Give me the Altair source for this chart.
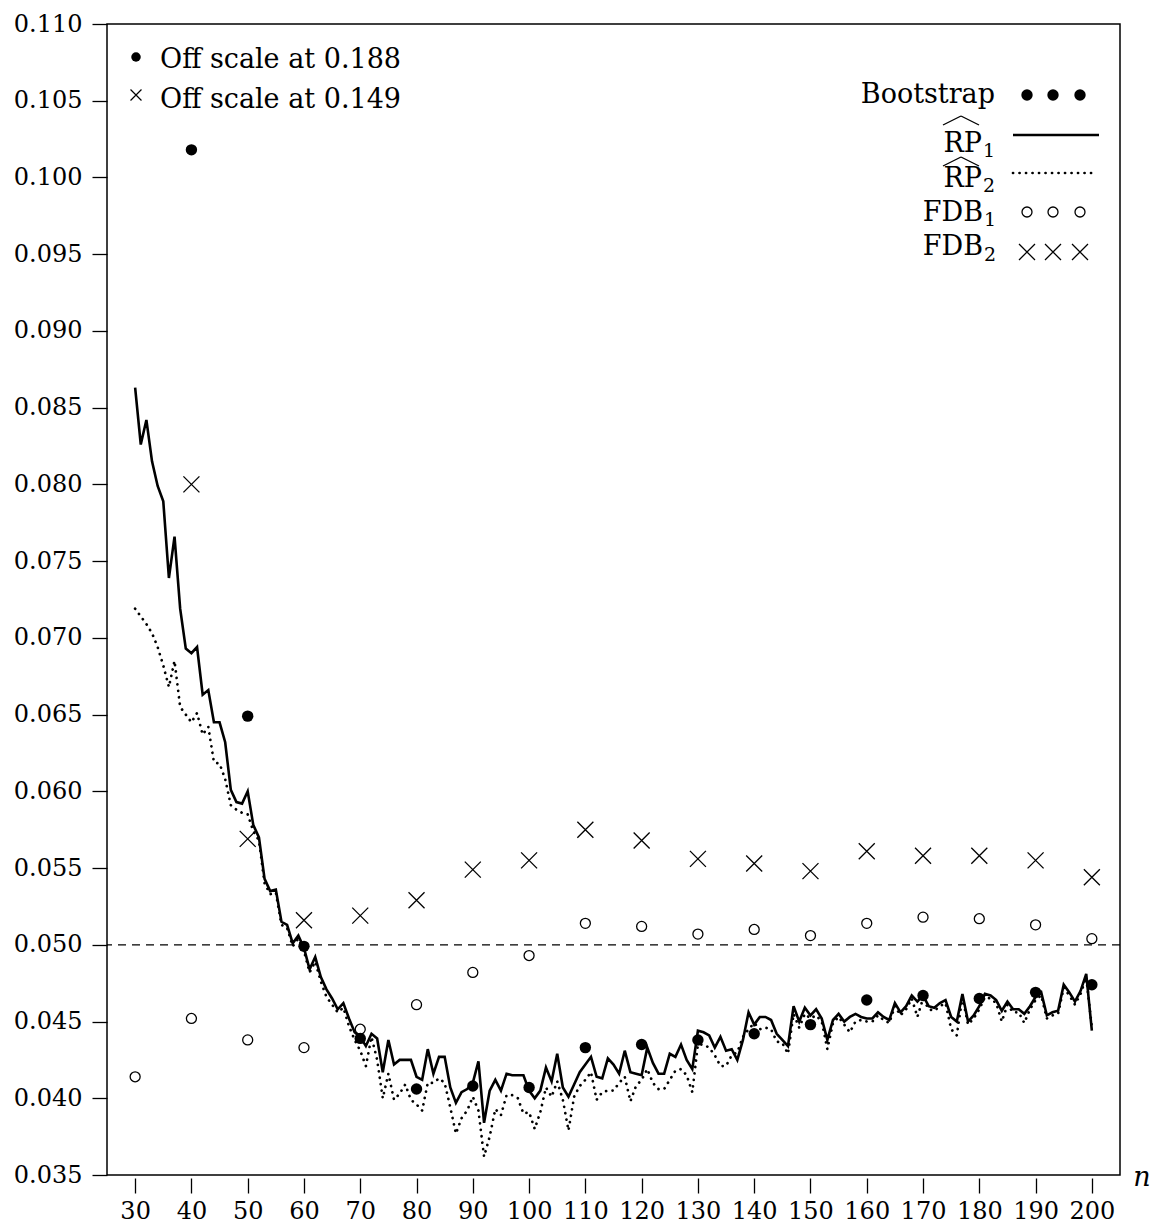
import altair as alt
import pandas as pd

# ---------------- data ----------------
n_all = list(range(30, 201))

rp1 = [0.0863, 0.0826, 0.0842, 0.0815, 0.0799, 0.0789, 0.0739, 0.0766, 0.0719, 0.0693,
       0.0690, 0.0694, 0.0663, 0.0666, 0.0645, 0.0645, 0.0632, 0.0601, 0.0593, 0.0592,
       0.0600, 0.0578, 0.0570, 0.0543, 0.0535, 0.0536, 0.0515, 0.0513, 0.0501, 0.0506,
       0.0498, 0.0484, 0.0492, 0.0479, 0.0471, 0.0465, 0.0458, 0.0462, 0.0452, 0.0443,
       0.0440, 0.0434, 0.0442, 0.0439, 0.0417, 0.0438, 0.0422, 0.0425, 0.0425, 0.0425,
       0.0414, 0.0412, 0.0432, 0.0416, 0.0427, 0.0427, 0.0407, 0.0397, 0.0404, 0.0406,
       0.0410, 0.0424, 0.0384, 0.0405, 0.0412, 0.0405, 0.0416, 0.0415, 0.0415, 0.0415,
       0.0405, 0.0400, 0.0405, 0.0420, 0.0411, 0.0429, 0.0407, 0.0401, 0.0409, 0.0417,
       0.0422, 0.0427, 0.0414, 0.0413, 0.0426, 0.0422, 0.0416, 0.0431, 0.0417, 0.0416,
       0.0415, 0.0433, 0.0423, 0.0416, 0.0416, 0.0429, 0.0427, 0.0435, 0.0425, 0.0419,
       0.0444, 0.0443, 0.0441, 0.0433, 0.0440, 0.0431, 0.0432, 0.0425, 0.0438, 0.0456,
       0.0448, 0.0453, 0.0453, 0.0451, 0.0442, 0.0438, 0.0434, 0.0460, 0.0450, 0.0459,
       0.0454, 0.0458, 0.0452, 0.0438, 0.0451, 0.0455, 0.0450, 0.0453, 0.0455, 0.0453,
       0.0452, 0.0452, 0.0456, 0.0453, 0.0451, 0.0462, 0.0456, 0.0460, 0.0467, 0.0463,
       0.0467, 0.0460, 0.0459, 0.0462, 0.0464, 0.0453, 0.0450, 0.0468, 0.0450, 0.0454,
       0.0460, 0.0468, 0.0467, 0.0464, 0.0457, 0.0463, 0.0458, 0.0458, 0.0455, 0.0460,
       0.0466, 0.0469, 0.0454, 0.0456, 0.0457, 0.0474, 0.0469, 0.0463, 0.0470, 0.0481,
       0.0444]

rp2 = [0.0719, 0.0714, 0.0709, 0.0703, 0.0694, 0.0682, 0.0668, 0.0685, 0.0655, 0.0650,
       0.0645, 0.0651, 0.0637, 0.0642, 0.0619, 0.0618, 0.0608, 0.0591, 0.0588, 0.0586,
       0.0585, 0.0574, 0.0568, 0.0540, 0.0533, 0.0534, 0.0513, 0.0511, 0.0499, 0.0504,
       0.0496, 0.0482, 0.0489, 0.0476, 0.0466, 0.0461, 0.0456, 0.0459, 0.0447, 0.0438,
       0.0431, 0.0421, 0.0440, 0.0425, 0.0400, 0.0416, 0.0399, 0.0403, 0.0409, 0.0399,
       0.0396, 0.0392, 0.0410, 0.0410, 0.0413, 0.0410, 0.0394, 0.0377, 0.0387, 0.0392,
       0.0401, 0.0392, 0.0362, 0.0375, 0.0393, 0.0389, 0.0402, 0.0402, 0.0400, 0.0390,
       0.0391, 0.0380, 0.0391, 0.0407, 0.0401, 0.0411, 0.0399, 0.0379, 0.0401, 0.0408,
       0.0412, 0.0417, 0.0399, 0.0404, 0.0405, 0.0405, 0.0410, 0.0414, 0.0398, 0.0408,
       0.0412, 0.0419, 0.0410, 0.0406, 0.0406, 0.0412, 0.0418, 0.0419, 0.0415, 0.0404,
       0.0435, 0.0435, 0.0433, 0.0428, 0.0421, 0.0421, 0.0428, 0.0430, 0.0440, 0.0445,
       0.0449, 0.0445, 0.0446, 0.0445, 0.0437, 0.0436, 0.0429, 0.0455, 0.0446, 0.0455,
       0.0452, 0.0454, 0.0450, 0.0432, 0.0449, 0.0453, 0.0448, 0.0443, 0.0450, 0.0451,
       0.0450, 0.0450, 0.0454, 0.0451, 0.0449, 0.0460, 0.0454, 0.0458, 0.0465, 0.0453,
       0.0465, 0.0458, 0.0457, 0.0460, 0.0462, 0.0445, 0.0441, 0.0466, 0.0448, 0.0452,
       0.0458, 0.0466, 0.0465, 0.0462, 0.0450, 0.0461, 0.0456, 0.0456, 0.0449, 0.0458,
       0.0464, 0.0467, 0.0452, 0.0454, 0.0455, 0.0472, 0.0467, 0.0461, 0.0468, 0.0479,
       0.0446]

n_boot = [40, 50, 60, 70, 80, 90, 100, 110, 120, 130, 140, 150, 160, 170, 180, 190, 200]
boot = [0.1018, 0.0649, 0.0499, 0.0439, 0.0406, 0.0408, 0.0407, 0.0433, 0.0435, 0.0438,
        0.0442, 0.0448, 0.0464, 0.0467, 0.0465, 0.0469, 0.0474]

n_fdb1 = [30, 40, 50, 60, 70, 80, 90, 100, 110, 120, 130, 140, 150, 160, 170, 180, 190, 200]
fdb1 = [0.0414, 0.0452, 0.0438, 0.0433, 0.0445, 0.0461, 0.0482, 0.0493, 0.0514, 0.0512,
        0.0507, 0.0510, 0.0506, 0.0514, 0.0518, 0.0517, 0.0513, 0.0504]

n_fdb2 = [40, 50, 60, 70, 80, 90, 100, 110, 120, 130, 140, 150, 160, 170, 180, 190, 200]
fdb2 = [0.0800, 0.0569, 0.0516, 0.0519, 0.0529, 0.0549, 0.0555, 0.0575, 0.0568, 0.0556,
        0.0553, 0.0548, 0.0561, 0.0558, 0.0558, 0.0555, 0.0544]

ref_level = [0.05]

x_ticks = [30, 40, 50, 60, 70, 80, 90, 100, 110, 120, 130, 140, 150, 160, 170, 180, 190, 200]
y_ticks = [0.035, 0.040, 0.045, 0.050, 0.055, 0.060, 0.065, 0.070, 0.075, 0.080,
           0.085, 0.090, 0.095, 0.100, 0.105, 0.110]

# ---------------- styling ----------------
FONT = "DejaVu Serif"
AXFS = 24      # axis labels
FS = 27        # legend / notes
SUBFS = 19     # subscripts
XPATH = "M-1,-1L1,1M-1,1L1,-1"

xs = alt.Scale(domain=[25, 205], nice=False, zero=False)
ys = alt.Scale(domain=[0.035, 0.110], nice=False, zero=False)

x_axis = alt.Axis(values=x_ticks, title=None, format="d", tickSize=15, offset=3,
                  labelPadding=6, labelOverlap=False, labelFlush=False)
y_axis = alt.Axis(values=y_ticks, title=None, format=".3f", tickSize=15,
                  labelPadding=10, labelOverlap=False, labelFlush=False)


def X():
    return alt.X("n:Q", scale=xs, axis=x_axis)


def Y():
    return alt.Y("value:Q", scale=ys, axis=y_axis)


df_rp1 = pd.DataFrame({"n": n_all, "value": rp1})
df_rp2 = pd.DataFrame({"n": n_all, "value": rp2})
df_boot = pd.DataFrame({"n": n_boot, "value": boot})
df_fdb1 = pd.DataFrame({"n": n_fdb1, "value": fdb1})
df_fdb2 = pd.DataFrame({"n": n_fdb2, "value": fdb2})
df_ref = pd.DataFrame({"value": ref_level})

ref = alt.Chart(df_ref).mark_rule(color="black", strokeWidth=1.3, strokeDash=[8, 6]).encode(y=Y())

line2 = alt.Chart(df_rp2).mark_line(color="black", strokeWidth=2.7, strokeDash=[0.1, 6.4],
                                    strokeCap="round").encode(x=X(), y=Y())
line1 = alt.Chart(df_rp1).mark_line(color="black", strokeWidth=2.6).encode(x=X(), y=Y())

pts_fdb1 = alt.Chart(df_fdb1).mark_point(shape="circle", size=100, filled=False, color="black",
                                         strokeWidth=1.3, opacity=1).encode(x=X(), y=Y())
pts_fdb2 = alt.Chart(df_fdb2).mark_point(shape=XPATH, size=256, filled=False, color="black",
                                         strokeWidth=1.3, opacity=1).encode(x=X(), y=Y())
pts_boot = alt.Chart(df_boot).mark_point(shape="circle", size=130, filled=True, color="black",
                                         opacity=1).encode(x=X(), y=Y())


# ---------------- decorations (legend, notes, axis name) ----------------
def txt(s, x, y, align="left", style="normal", size=FS):
    return alt.Chart().mark_text(text=s, font=FONT, fontSize=size, align=align, baseline="alphabetic",
                                 color="black", fontStyle=style).encode(x=alt.value(x), y=alt.value(y))


def sym(x, y, shape, size, filled, sw=1.3):
    return alt.Chart().mark_point(shape=shape, size=size, filled=filled, color="black",
                                  strokeWidth=sw, opacity=1).encode(x=alt.value(x), y=alt.value(y))


def seg(x1, y1, x2, y2, sw=1.3, dash=None, cap="butt"):
    kw = dict(color="black", strokeWidth=sw, strokeCap=cap)
    if dash is not None:
        kw["strokeDash"] = dash
    return alt.Chart().mark_rule(**kw).encode(x=alt.value(x1), y=alt.value(y1),
                                             x2=alt.value(x2), y2=alt.value(y2))


deco = [
    sym(29, 33, "circle", 90, True),
    txt("Off scale at 0.188", 53, 44),
    sym(29, 71, XPATH, 120, False, 1.2),
    txt("Off scale at 0.149", 53, 84),

    txt("Bootstrap", 888, 79, align="right"),
    sym(920, 71, "circle", 130, True), sym(946, 71, "circle", 130, True), sym(973, 71, "circle", 130, True),

    txt("RP", 875, 128, align="right"), txt("1", 876, 133, size=SUBFS),
    seg(836, 101, 854, 92), seg(854, 92, 872, 101),
    seg(906, 111, 992, 111, sw=2.6),

    txt("RP", 875, 163, align="right"), txt("2", 876, 168, size=SUBFS),
    seg(836, 142, 854, 133), seg(854, 133, 872, 142),
    seg(906, 149, 988, 149, sw=2.7, dash=[0.1, 6.4], cap="round"),

    txt("FDB", 876, 197, align="right"), txt("1", 877, 202, size=SUBFS),
    sym(920, 188, "circle", 100, False), sym(946, 188, "circle", 100, False), sym(973, 188, "circle", 100, False),

    txt("FDB", 876, 231, align="right"), txt("2", 877, 237, size=SUBFS),
    sym(920, 228, XPATH, 256, False), sym(946, 228, XPATH, 256, False), sym(973, 228, XPATH, 256, False),

    txt("n", 1035, 1162, align="center", style="italic"),
]

chart = alt.layer(ref, line2, line1, pts_fdb1, pts_fdb2, pts_boot, *deco).properties(
    width=1013, height=1151,
    autosize=alt.AutoSizeParams(type="none"),
    padding={"left": 99, "top": 16, "right": 30, "bottom": 48},
).configure_view(stroke="black", strokeWidth=1.5).configure_axis(
    domain=False, grid=False, tickColor="black", tickWidth=1.3,
    labelFont=FONT, labelFontSize=AXFS, labelColor="black",
)

chart.save("out.html", embed_options={"renderer": "svg", "actions": False})
